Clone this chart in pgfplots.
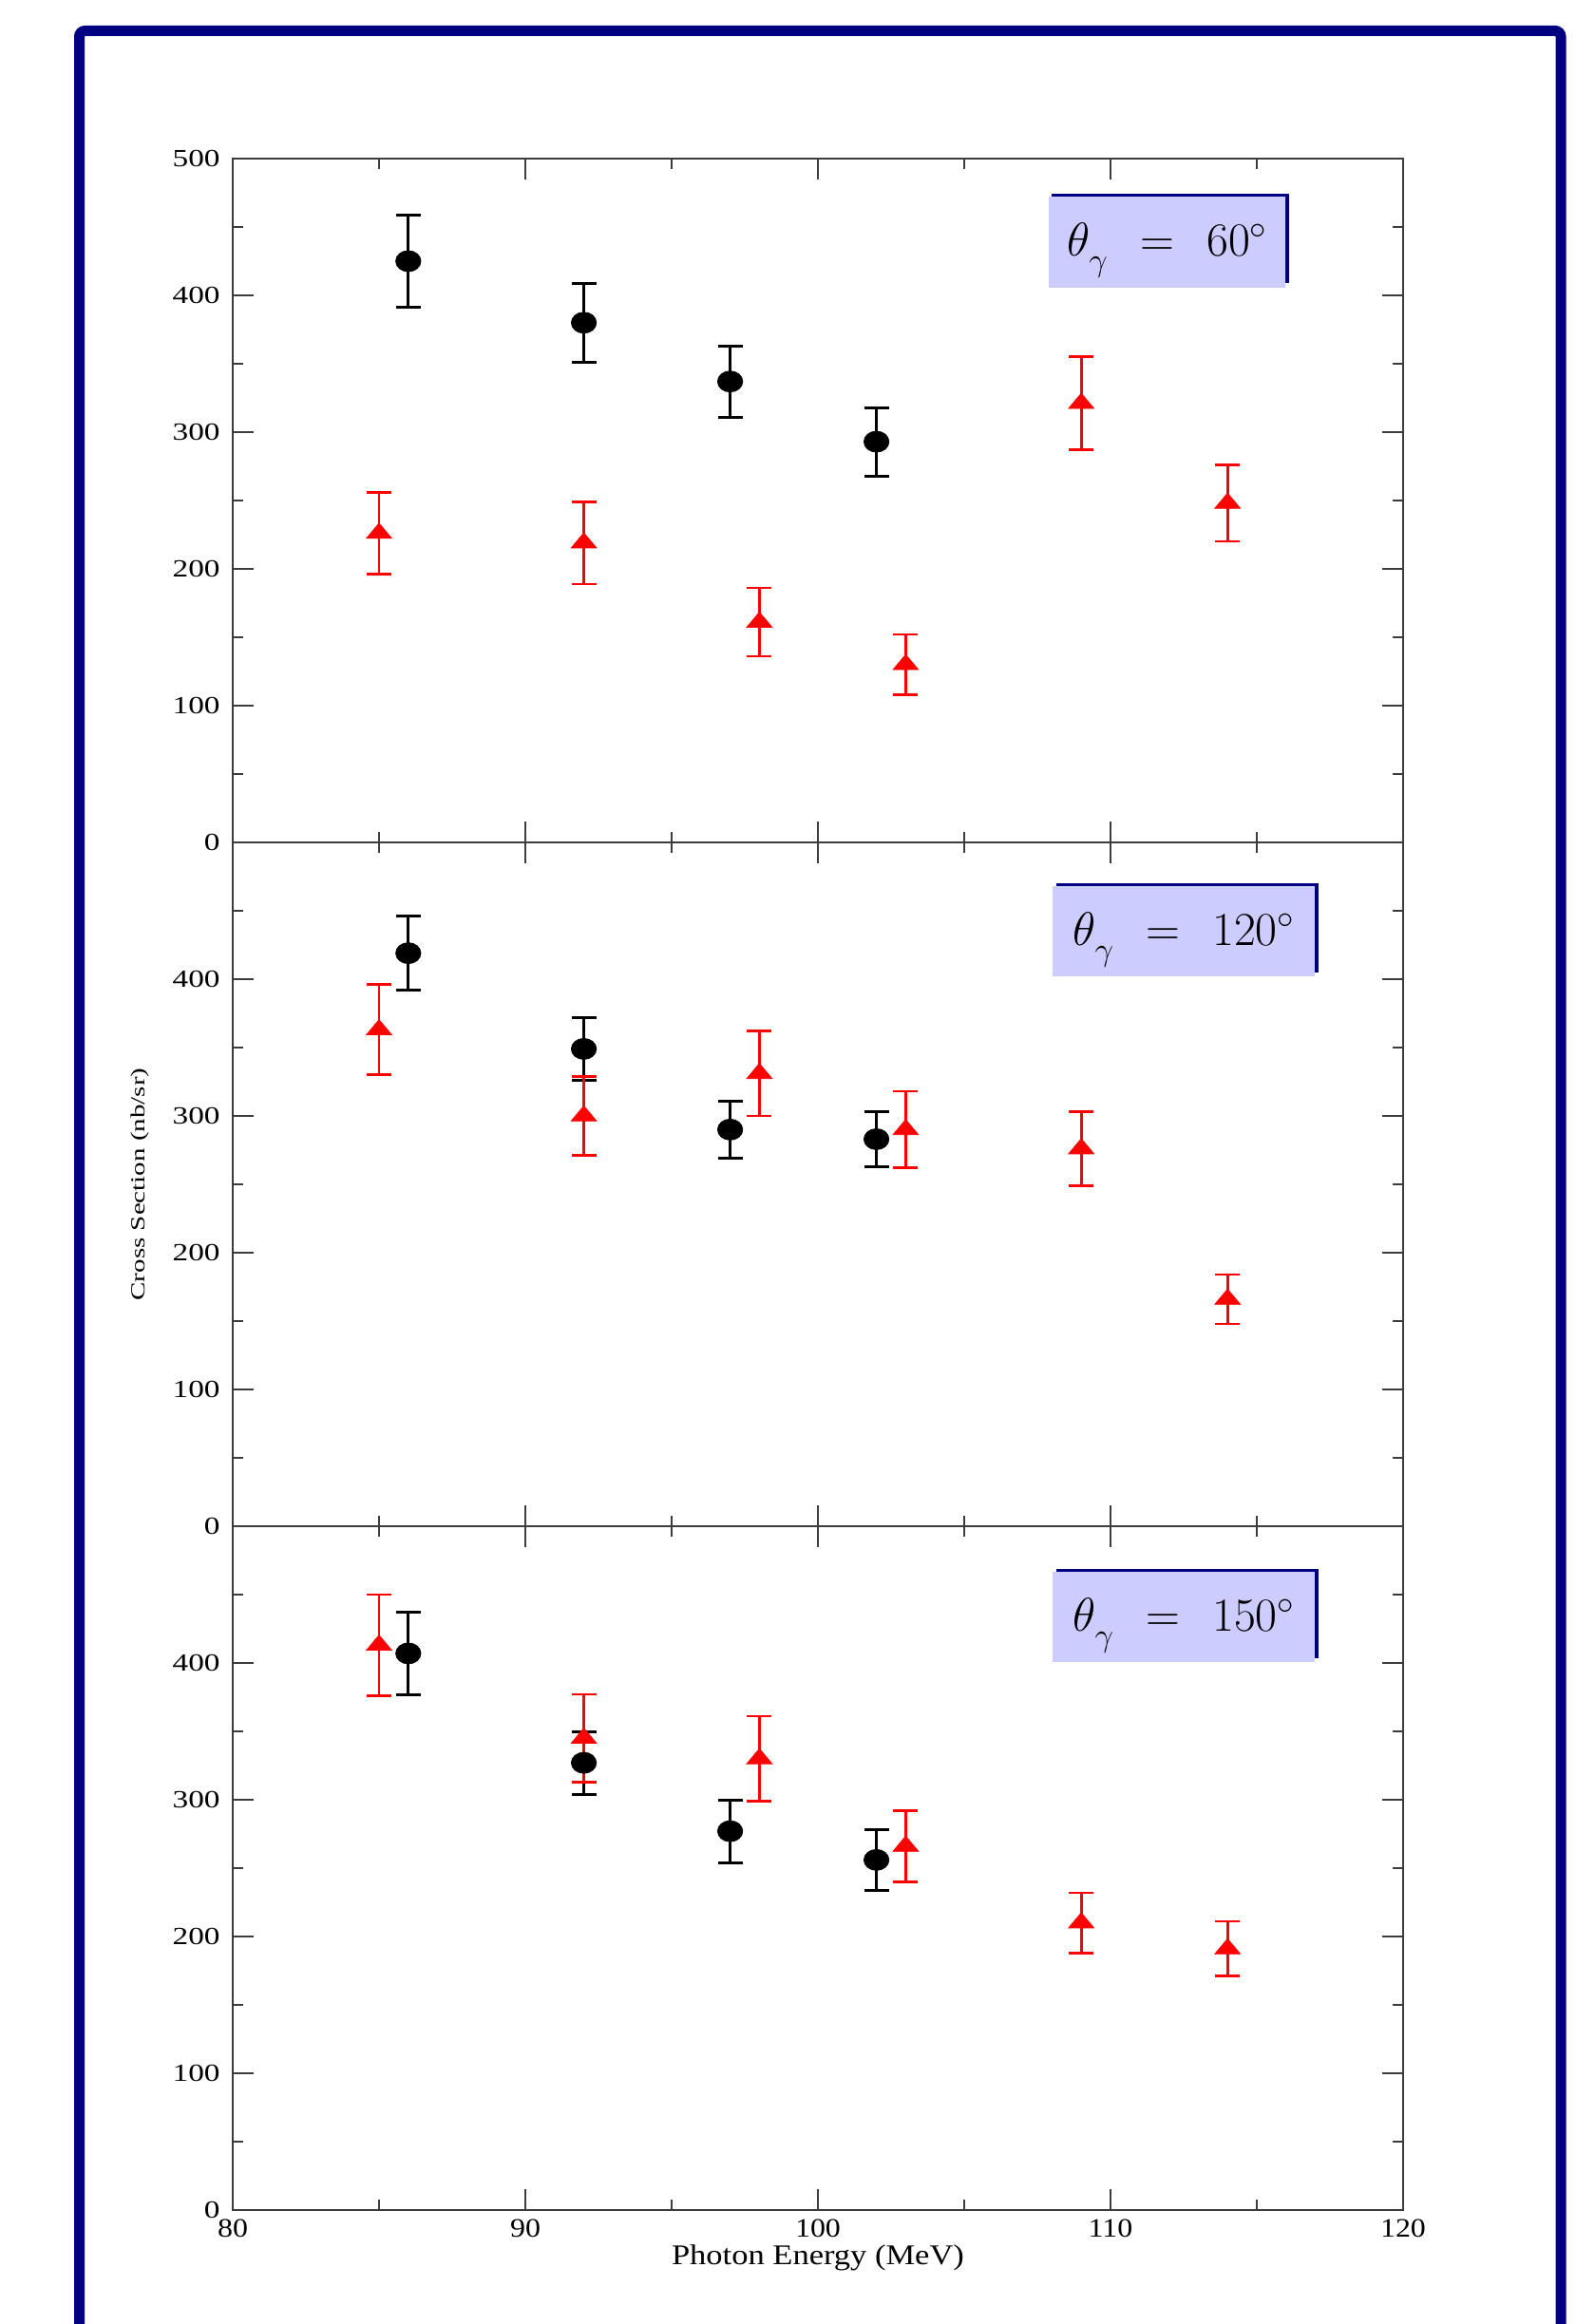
\documentclass[border=0pt]{standalone}
\usepackage{fontspec}
\setmainfont{Liberation Serif}
\newfontfamily\ytf{Liberation Serif}[FakeStretch=1.28]
\newfontfamily\xtf{Liberation Serif}[FakeStretch=1.14]
\newfontfamily\xlf{Liberation Serif}[FakeStretch=1.15]
\usepackage{graphicx}
\usepackage{pgfplots}
\usepackage{pgfplotstable}
\pgfplotsset{compat=1.18}
\definecolor{navy}{RGB}{0,0,128}
\definecolor{lav}{RGB}{204,204,255}
\definecolor{axgray}{RGB}{60,60,60}

\pgfplotstableread{
E v e
86 425 34
92 380 29
97 337 26
102 293 25
}\topblack
\pgfplotstableread{
E v e
85 226 30
92 219 30
98 161 25
103 130 22
109 321 34
114 248 28
}\topred
\pgfplotstableread{
E v e
86 419 27
92 349 23
97 290 21
102 283 20
}\midblack
\pgfplotstableread{
E v e
85 363 33
92 300 29
98 331 31
103 290 28
109 276 27
114 166 18
}\midred
\pgfplotstableread{
E v e
86 407 30
92 327 23
97 277 23
102 256 22
}\botblack
\pgfplotstableread{
E v e
85 413 37
92 345 32
98 330 31
103 266 26
109 210 22
114 191 20
}\botred

\pgfplotsset{
  panel/.style={
    anchor=south west, scale only axis,
    width=616pt, height=360pt,
    xmin=80, xmax=120, ymin=0, ymax=500,
    xtick={80,90,...,120}, minor xtick={85,95,105,115},
    ytick={0,100,...,500}, minor ytick={50,150,...,450},
    tick align=inside,
    major tick length=11pt, minor tick length=5.5pt,
    axis line style={line width=1pt, axgray},
    every tick/.style={line width=1pt, axgray},
    /pgf/number format/assume math mode=true,
    yticklabel style={font=\fontsize{13pt}{13pt}\ytf, inner sep=0pt, xshift=-6.5pt, anchor=east},
    xticklabel style={font=\fontsize{14pt}{14pt}\xtf, inner sep=0pt, yshift=-4.5pt, anchor=north},
    clip=false,
  },
  blk/.style={only marks, black, mark=*, mark size=5.5pt,
    mark options={xscale=1.2, fill=black, draw=black},
    error bars/.cd, y dir=both, y explicit,
    error bar style={line width=1.5pt, black},
    error mark options={rotate=90, line width=1.5pt, mark size=6.5pt, black}},
  rd/.style={only marks, red, mark=triangle*, mark size=5.3pt,
    mark options={xscale=1.45, fill=red, draw=red},
    error bars/.cd, y dir=both, y explicit,
    error bar style={line width=1.3pt, red},
    error mark options={rotate=90, line width=1.3pt, mark size=6.5pt, red}},
}

\begin{document}
\begin{tikzpicture}
\useasboundingbox (0,0) rectangle (829.5pt,1223.5pt);
\fill[white] (0,0) rectangle (829.5pt,1223.5pt);
% frame
\draw[navy, line width=5.5pt, rounded corners=3pt] (41.75pt,-5pt) -- (41.75pt,1207.25pt) -- (821.5pt,1207.25pt) -- (821.5pt,-5pt);

% top panel
\begin{axis}[panel, at={(122.5pt,780pt)}, xticklabels={}]
\addplot[blk] table[x=E, y=v, y error=e] {\topblack};
\addplot[rd] table[x=E, y=v, y error=e] {\topred};
\end{axis}

% middle panel
\begin{axis}[panel, at={(122.5pt,420pt)}, xticklabels={}, yticklabels={0,100,200,300,400,}]
\addplot[blk] table[x=E, y=v, y error=e] {\midblack};
\addplot[rd] table[x=E, y=v, y error=e] {\midred};
\end{axis}

% bottom panel
\begin{axis}[panel, at={(122.5pt,60pt)}, yticklabels={0,100,200,300,400,},
  xlabel={Photon Energy (MeV)},
  every axis x label/.style={at={(axis description cs:0.5,0)}, anchor=center, yshift=-25pt, font=\fontsize{15pt}{15pt}\xlf}]
\addplot[blk] table[x=E, y=v, y error=e] {\botblack};
\addplot[rd] table[x=E, y=v, y error=e] {\botred};
\end{axis}

% y axis title
\node[rotate=90, anchor=center, inner sep=0pt] at (73.5pt,600pt)
  {\fontsize{10.5pt}{12pt}\selectfont\scalebox{1.38}[1]{Cross Section (nb/sr)}};

% angle boxes
\fill[navy] (553.5pt,1074.5pt) rectangle (678.5pt,1121.5pt);
\fill[lav] (552pt,1072pt) rectangle (676.5pt,1120pt);
\node[anchor=base, inner sep=0pt, font=\fontsize{25pt}{30pt}\selectfont] at (614.5pt,1088.5pt)
  {$\theta_{\lower4pt\hbox{$\scriptstyle\gamma$}}\hskip10pt=\hskip10pt60^{\circ}$};

\fill[navy] (556pt,711.5pt) rectangle (694pt,758.5pt);
\fill[lav] (554pt,709.5pt) rectangle (692pt,757pt);
\node[anchor=base, inner sep=0pt, font=\fontsize{25pt}{30pt}\selectfont] at (623.25pt,725.5pt)
  {$\theta_{\lower4pt\hbox{$\scriptstyle\gamma$}}\hskip10pt=\hskip10pt120^{\circ}$};

\fill[navy] (556pt,350.5pt) rectangle (694pt,397.5pt);
\fill[lav] (554pt,348.5pt) rectangle (692pt,396pt);
\node[anchor=base, inner sep=0pt, font=\fontsize{25pt}{30pt}\selectfont] at (623.25pt,364.5pt)
  {$\theta_{\lower4pt\hbox{$\scriptstyle\gamma$}}\hskip10pt=\hskip10pt150^{\circ}$};
\end{tikzpicture}
\end{document}
